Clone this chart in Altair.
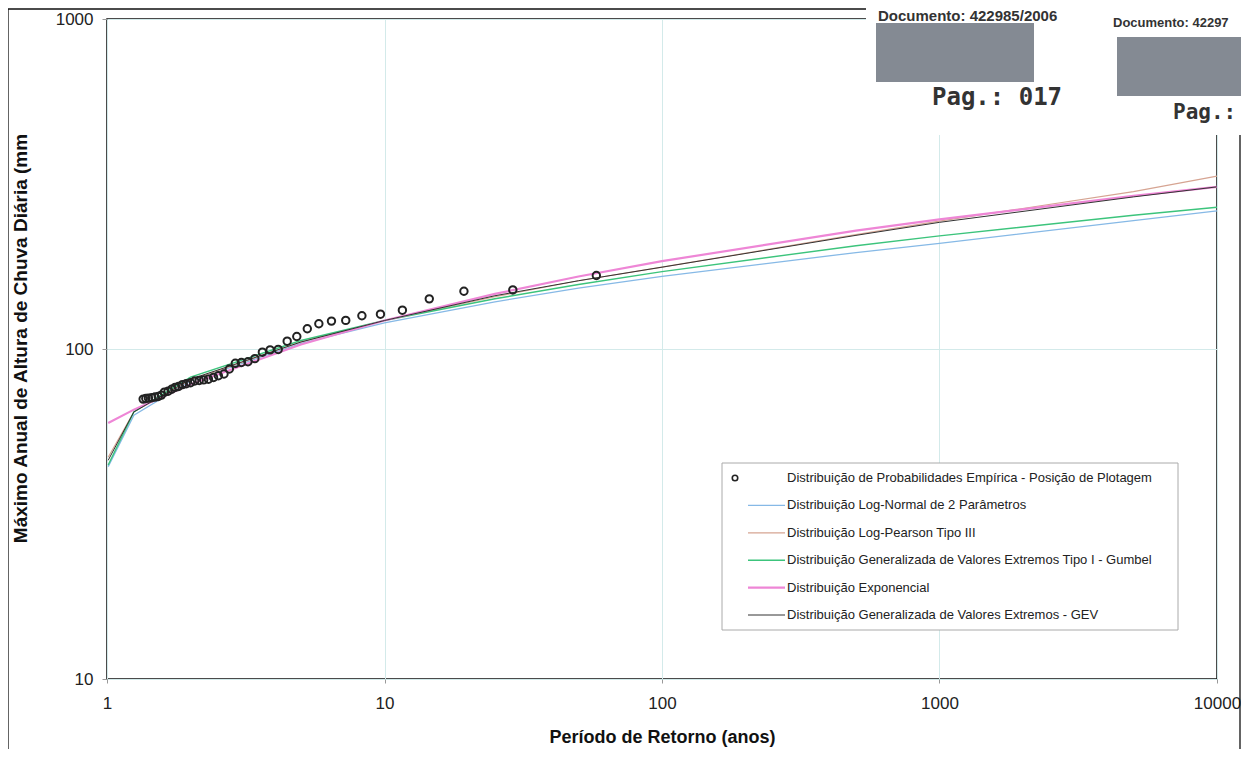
import altair as alt
import pandas as pd

# ---------------- data ----------------
# empirical plotting positions (return period, annual max daily rainfall)
emp_T = [58.0, 29.0, 19.33, 14.5, 11.6, 9.67, 8.29, 7.25, 6.44, 5.8, 5.27, 4.83, 4.46, 4.14,
         3.87, 3.63, 3.41, 3.22, 3.05, 2.9, 2.76, 2.64, 2.52, 2.42, 2.32, 2.23, 2.15, 2.07,
         2.0, 1.93, 1.87, 1.81, 1.76, 1.71, 1.66, 1.61, 1.57, 1.53, 1.49, 1.45, 1.41, 1.38, 1.35]
emp_V = [167, 151, 149.6, 141.9, 131.1, 127.5, 126.1, 122.1, 121.5, 119.3, 115.2, 109.1, 105.6,
         99.7, 99.4, 97.8, 93.5, 91.5, 91, 90.5, 87, 84, 83, 82, 81, 80.6, 80.3, 80, 79, 78.5,
         78, 77, 76.5, 75.5, 74.5, 74, 72.5, 71.8, 71.5, 71.2, 71, 70.8, 70.5]

fit_T = [1.01, 1.25, 2, 5, 10, 25, 50, 100, 500, 1000, 5000, 10000]
lognormal = [44, 63, 80, 104, 120, 139, 153, 166, 196, 209, 245, 262]
logpearson = [47, 64.5, 80.5, 105, 122, 144, 161, 177, 222, 244, 300, 334]
gumbel = [44.5, 64.5, 82.2, 106.1, 122, 142, 156.8, 171.6, 205.6, 220.2, 254.2, 269]
exponencial = [59.7, 65.5, 78.2, 103.2, 122, 146.9, 165.8, 184.6, 228.4, 247.2, 291, 309.8]
gev = [46, 64.5, 81, 105, 122, 145, 161, 177, 221, 242, 289, 310]

name_emp = "Distribuição de Probabilidades Empírica - Posição de Plotagem"
series_names = [
    "Distribuição Log-Normal de 2 Parâmetros",
    "Distribuição Log-Pearson Tipo III",
    "Distribuição Generalizada de Valores Extremos Tipo I - Gumbel",
    "Distribuição Exponencial",
    "Distribuição Generalizada de Valores Extremos - GEV",
]
series_values = [lognormal, logpearson, gumbel, exponencial, gev]

x_ticks = [1, 10, 100, 1000, 10000]
y_ticks = [10, 100, 1000]

# ---------------- styles ----------------
colors = ["#86b9e6", "#d6a492", "#3cc47c", "#ee86d6", "#333333"]
widths = [1.3, 1.2, 1.4, 2.2, 1.0]
FONT = "Liberation Sans"
GRID = "#d3eaea"

x_enc = alt.X(
    "T:Q",
    scale=alt.Scale(type="log", domain=[1, 10000]),
    axis=alt.Axis(
        title="Período de Retorno (anos)", values=x_ticks, format="d", grid=True,
        gridColor=GRID, domain=False, tickSize=4, tickColor="#999999",
        labelFont=FONT, labelFontSize=17, labelPadding=12, labelColor="#222222",
        labelFlush=False, labelOverlap=False,
        titleFont=FONT, titleFontSize=18, titleFontWeight="bold", titleColor="#111111",
        titleY=58, titleBaseline="middle",
    ),
)
y_enc = alt.Y(
    "V:Q",
    scale=alt.Scale(type="log", domain=[10, 1000]),
    axis=alt.Axis(
        title="Máximo Anual de Altura de Chuva Diária (mm", values=y_ticks, format="d",
        grid=True, gridColor=GRID, domain=False, tickSize=5, tickColor="#999999",
        labelFont=FONT, labelFontSize=17, labelPadding=9, labelColor="#222222",
        labelFlush=False, labelOverlap=False,
        titleFont=FONT, titleFontSize=19, titleFontWeight="bold", titleColor="#111111",
        titleX=-87, titleY=319, titleAlign="center", titleBaseline="middle",
    ),
)

dummy = pd.DataFrame({"k": [0]})
layers = []

# outer frame of the page
layers.append(
    alt.Chart(dummy).mark_rect(fillOpacity=0, stroke="#111111", strokeWidth=1.3).encode(
        x=alt.value(-99), x2=alt.value(1133), y=alt.value(-10), y2=alt.value(745)
    )
)

# fitted distributions
for i in range(5):
    df = pd.DataFrame({"T": fit_T, "V": series_values[i]})
    layers.append(
        alt.Chart(df).mark_line(color=colors[i], strokeWidth=widths[i]).encode(x=x_enc, y=y_enc)
    )

# empirical points
emp_df = pd.DataFrame({"T": emp_T, "V": emp_V})
layers.append(
    alt.Chart(emp_df).mark_point(shape="circle", filled=False, size=55, strokeWidth=2,
                                 color="#222222", opacity=1).encode(x=x_enc, y=y_enc)
)

# legend (drawn by hand)
layers.append(
    alt.Chart(dummy).mark_rect(fill="white", stroke="#aaaaaa", strokeWidth=1).encode(
        x=alt.value(615), x2=alt.value(1071), y=alt.value(444), y2=alt.value(611)
    )
)
row_y = [459 + 27.4 * r for r in range(6)]
layers.append(
    alt.Chart(dummy).mark_point(shape="circle", filled=False, size=30, strokeWidth=1.6,
                                color="#222222", opacity=1).encode(
        x=alt.value(628), y=alt.value(row_y[0])
    )
)
legend_names = [name_emp] + series_names
for r, nm in enumerate(legend_names):
    layers.append(
        alt.Chart(dummy).mark_text(align="left", baseline="middle", font=FONT, fontSize=13,
                                   color="#222222").encode(
            x=alt.value(680), y=alt.value(row_y[r]), text=alt.value(nm)
        )
    )
for i in range(5):
    layers.append(
        alt.Chart(dummy).mark_rule(color=colors[i], strokeWidth=widths[i]).encode(
            x=alt.value(641), x2=alt.value(678), y=alt.value(row_y[i + 1])
        )
    )

# scanned document stamps (top right)
layers.append(
    alt.Chart(dummy).mark_rect(fill="white").encode(
        x=alt.value(759), x2=alt.value(1150), y=alt.value(-19), y2=alt.value(116)
    )
)
for x0, x1, y0, y1 in [(769, 927, 4, 63), (1010, 1150, 18, 77)]:
    layers.append(
        alt.Chart(dummy).mark_rect(fill="#6f7580", opacity=0.85).encode(
            x=alt.value(x0), x2=alt.value(x1), y=alt.value(y0), y2=alt.value(y1)
        )
    )
stamp_texts = [
    ("Documento: 422985/2006", 771, -3, 15, FONT),
    ("Documento: 42297", 1006, 4, 13, FONT),
    ("Pag.: 017", 825, 79, 24, "DejaVu Sans Mono"),
    ("Pag.:", 1066, 94, 21, "DejaVu Sans Mono"),
]
for txt, tx, ty, fs, fnt in stamp_texts:
    layers.append(
        alt.Chart(dummy).mark_text(align="left", baseline="middle", font=fnt, fontSize=fs,
                                   fontWeight="bold", color="#333333").encode(
            x=alt.value(tx), y=alt.value(ty), text=alt.value(txt)
        )
    )

chart = (
    alt.layer(*layers)
    .properties(
        width=1110,
        height=660,
        padding={"left": 99, "top": 11, "right": 24, "bottom": 70},
        autosize=alt.AutoSizeParams(type="none"),
        background="white",
    )
    .configure_view(stroke="#111111", strokeWidth=1.5)
)

chart.save("out.html", embed_options={"renderer": "svg", "actions": False})
